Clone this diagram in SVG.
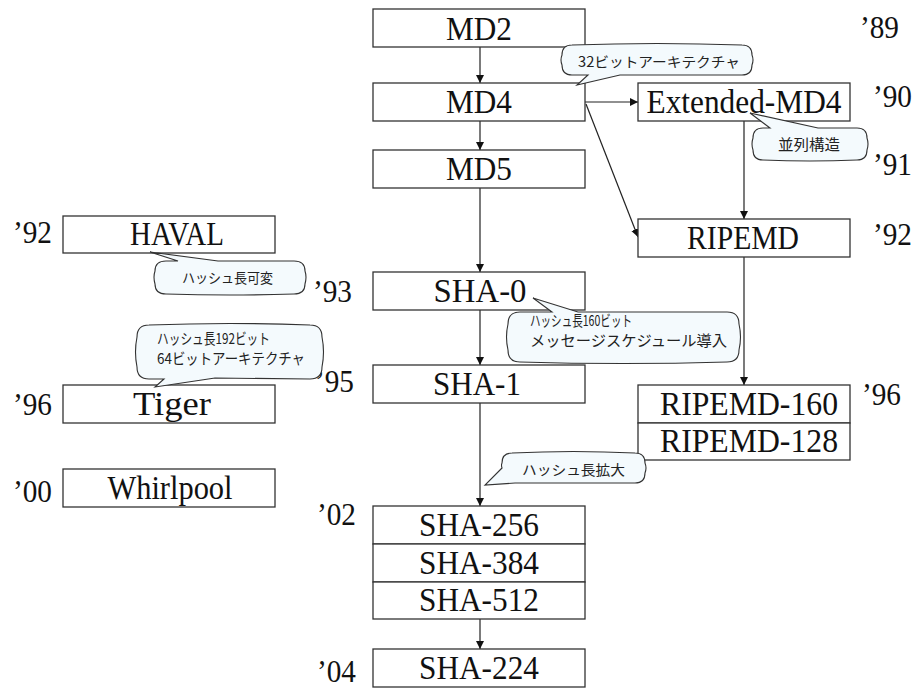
<svg xmlns="http://www.w3.org/2000/svg" width="924" height="688" viewBox="0 0 924 688">
<style>
.box{fill:#fff;stroke:#333;stroke-width:1.3}
.lbl{font-size:33px;fill:#111;text-anchor:middle}
.yr{font-size:31px;fill:#111}
.co{fill:#f4fafd;stroke:#333;stroke-width:1.1}
.ct{font-family:'Noto Sans CJK JP','Noto Sans',sans-serif;font-size:14px;fill:#222}
.ln{stroke:#222;stroke-width:1.2;fill:none;marker-end:url(#ah)}
</style>
<defs>
<marker id="ah" markerWidth="10" markerHeight="10" refX="8" refY="4" orient="auto" markerUnits="userSpaceOnUse">
<path d="M0,0 L8,4 L0,8 Z" fill="#111"/>
</marker>
</defs>
<g id="connectors">
<line class="ln" x1="480" y1="47" x2="480" y2="83"/>
<line class="ln" x1="480" y1="121" x2="480" y2="150"/>
<line class="ln" x1="480" y1="188" x2="480" y2="272"/>
<line class="ln" x1="480" y1="310" x2="480" y2="365"/>
<line class="ln" x1="480" y1="403" x2="480" y2="506"/>
<line class="ln" x1="480" y1="619" x2="480" y2="649"/>
<line class="ln" x1="585" y1="102" x2="638" y2="102"/>
<line class="ln" x1="586" y1="104" x2="638" y2="237"/>
<line class="ln" x1="744" y1="121" x2="744" y2="219"/>
<line class="ln" x1="744" y1="257" x2="744" y2="385"/>
</g>
<g font-family="Times New Roman, Liberation Serif, Tinos, Noto Serif, DejaVu Serif, Times, serif">
<g id="n-md2"><rect class="box" x="373" y="9" width="212" height="38"/><text class="lbl" x="479" y="40" textLength="66" lengthAdjust="spacingAndGlyphs">MD2</text></g>
<g id="n-md4"><rect class="box" x="373" y="83" width="212" height="38"/><text class="lbl" x="479" y="113" textLength="66" lengthAdjust="spacingAndGlyphs">MD4</text></g>
<g id="n-md5"><rect class="box" x="373" y="150" width="212" height="38"/><text class="lbl" x="479" y="180" textLength="66" lengthAdjust="spacingAndGlyphs">MD5</text></g>
<g id="n-extmd4"><rect class="box" x="638" y="83" width="212" height="38"/><text class="lbl" x="744" y="113" textLength="195" lengthAdjust="spacingAndGlyphs">Extended-MD4</text></g>
<g id="n-ripemd"><rect class="box" x="638" y="219" width="212" height="38"/><text class="lbl" x="743" y="249" textLength="112" lengthAdjust="spacingAndGlyphs">RIPEMD</text></g>
<g id="n-haval"><rect class="box" x="63" y="216" width="212" height="37"/><text class="lbl" x="177" y="245" textLength="94" lengthAdjust="spacingAndGlyphs">HAVAL</text></g>
<g id="n-sha0"><rect class="box" x="373" y="272" width="212" height="38"/><text class="lbl" x="480" y="302" textLength="93" lengthAdjust="spacingAndGlyphs">SHA-0</text></g>
<g id="n-sha1"><rect class="box" x="373" y="365" width="212" height="38"/><text class="lbl" x="477" y="395" textLength="88" lengthAdjust="spacingAndGlyphs">SHA-1</text></g>
<g id="n-ripemd160"><rect class="box" x="638" y="385" width="212" height="38"/><rect class="box" x="638" y="423" width="212" height="37"/><text class="lbl" x="749" y="415" textLength="178" lengthAdjust="spacingAndGlyphs">RIPEMD-160</text><text class="lbl" x="749" y="452" textLength="178" lengthAdjust="spacingAndGlyphs">RIPEMD-128</text></g>
<g id="n-tiger"><rect class="box" x="63" y="385" width="212" height="38"/><text class="lbl" x="172" y="415" textLength="78" lengthAdjust="spacingAndGlyphs">Tiger</text></g>
<g id="n-whirlpool"><rect class="box" x="63" y="469" width="212" height="38"/><text class="lbl" x="170" y="499" textLength="125" lengthAdjust="spacingAndGlyphs">Whirlpool</text></g>
<g id="n-sha2"><rect class="box" x="373" y="506" width="212" height="38"/><rect class="box" x="373" y="544" width="212" height="38"/><rect class="box" x="373" y="582" width="212" height="37"/><text class="lbl" x="479" y="536" textLength="120" lengthAdjust="spacingAndGlyphs">SHA-256</text><text class="lbl" x="479" y="574" textLength="120" lengthAdjust="spacingAndGlyphs">SHA-384</text><text class="lbl" x="479" y="611" textLength="120" lengthAdjust="spacingAndGlyphs">SHA-512</text></g>
<g id="n-sha224"><rect class="box" x="373" y="649" width="212" height="38"/><text class="lbl" x="479" y="679" textLength="120" lengthAdjust="spacingAndGlyphs">SHA-224</text></g>
<g id="years">
<text class="yr" x="860" y="38" textLength="39" lengthAdjust="spacingAndGlyphs">’89</text>
<text class="yr" x="873" y="107" textLength="39" lengthAdjust="spacingAndGlyphs">’90</text>
<text class="yr" x="873" y="175" textLength="39" lengthAdjust="spacingAndGlyphs">’91</text>
<text class="yr" x="873" y="245" textLength="39" lengthAdjust="spacingAndGlyphs">’92</text>
<text class="yr" x="13" y="243" textLength="39" lengthAdjust="spacingAndGlyphs">’92</text>
<text class="yr" x="313" y="302" textLength="39" lengthAdjust="spacingAndGlyphs">’93</text>
<text class="yr" x="315" y="392" textLength="39" lengthAdjust="spacingAndGlyphs">’95</text>
<text class="yr" x="13" y="415" textLength="39" lengthAdjust="spacingAndGlyphs">’96</text>
<text class="yr" x="862" y="405" textLength="39" lengthAdjust="spacingAndGlyphs">’96</text>
<text class="yr" x="13" y="502" textLength="39" lengthAdjust="spacingAndGlyphs">’00</text>
<text class="yr" x="317" y="525" textLength="39" lengthAdjust="spacingAndGlyphs">’02</text>
<text class="yr" x="317" y="682" textLength="39" lengthAdjust="spacingAndGlyphs">’04</text>
</g>
</g>
<g id="c-32bit"><path class="co" d="M572,45 Q657,42 742,45 Q752,45 752,55 Q754,60 752,65 Q752,75 742,75 L620,75 L577,85 L588,75 L572,75 Q562,75 562,65 Q560,60 562,55 Q562,45 572,45 Z"/><text class="ct" x="578" y="67" textLength="162" lengthAdjust="spacingAndGlyphs">32ビットアーキテクチャ</text></g>
<g id="c-parallel"><path class="co" d="M763,128 L770,128 L750,113 L818,128 L857,128 Q867,128 867,138 Q869,144 867,150 Q867,160 857,160 Q810,162 763,160 Q753,160 753,150 Q751,144 753,138 Q753,128 763,128 Z"/><text class="ct" style="font-size:15px" x="778" y="150" textLength="62" lengthAdjust="spacingAndGlyphs">並列構造</text></g>
<g id="c-haval"><path class="co" d="M166,261 L178,261 L150,252 L218,261 L294,261 Q305,261 305,271 Q307,277 305,284 Q305,294 294,294 Q230,296 166,294 Q155,294 155,284 Q153,277 155,271 Q155,261 166,261 Z"/><text class="ct" x="182" y="283" textLength="91" lengthAdjust="spacingAndGlyphs">ハッシュ長可変</text></g>
<g id="c-sha0"><path class="co" d="M520,312 L552,312 L533,298 L578,312 L727,312 Q739,312 739,324 Q742,337 739,350 Q739,362 727,362 Q623,365 520,362 Q508,362 508,350 Q505,337 508,324 Q508,312 520,312 Z"/><text class="ct" style="font-size:15px" x="530" y="326" textLength="102" lengthAdjust="spacingAndGlyphs">ハッシュ長160ビット</text><text class="ct" style="font-size:15px" x="530" y="346" textLength="197" lengthAdjust="spacingAndGlyphs">メッセージスケジュール導入</text></g>
<g id="c-tiger"><path class="co" d="M149,325 Q230,322 310,325 Q322,325 322,337 Q325,352 322,367 Q322,379 310,379 L215,378 L155,387 L164,379 L149,379 Q137,379 137,367 Q134,352 137,337 Q137,325 149,325 Z"/><text class="ct" style="font-size:15px" x="157" y="344" textLength="113" lengthAdjust="spacingAndGlyphs">ハッシュ長192ビット</text><text class="ct" style="font-size:15px" x="157" y="364" textLength="148" lengthAdjust="spacingAndGlyphs">64ビットアーキテクチャ</text></g>
<g id="c-expand"><path class="co" d="M512,453 Q573,450 635,453 Q645,453 645,463 Q647,468 645,473 Q645,483 635,483 L515,483 L485,485 L502,468 Q501,465 502,463 Q502,453 512,453 Z"/><text class="ct" x="522" y="475" textLength="103" lengthAdjust="spacingAndGlyphs">ハッシュ長拡大</text></g>
</svg>
